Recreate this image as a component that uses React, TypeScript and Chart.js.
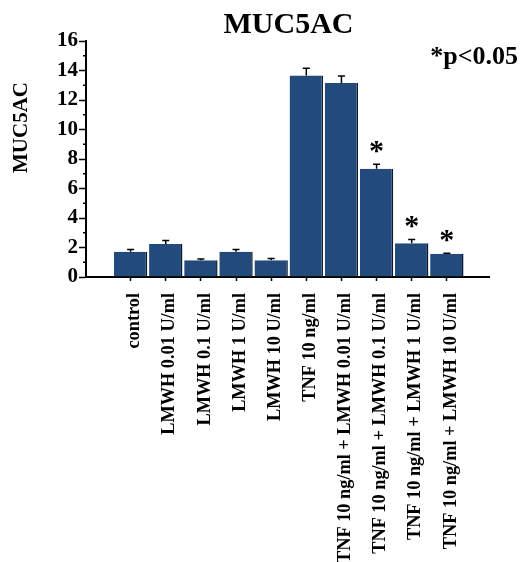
import React, { useEffect, useRef } from "react";
import { Chart, registerables } from "chart.js";

Chart.register(...registerables);

const categories = [
  "control",
  "LMWH 0.01 U/ml",
  "LMWH 0.1 U/ml",
  "LMWH 1 U/ml",
  "LMWH 10 U/ml",
  "TNF 10 ng/ml",
  "TNF 10 ng/ml + LMWH 0.01 U/ml",
  "TNF 10 ng/ml + LMWH 0.1 U/ml",
  "TNF 10 ng/ml + LMWH 1 U/ml",
  "TNF 10 ng/ml + LMWH 10 U/ml",
];
const means = [1.72, 2.23, 1.13, 1.72, 1.13, 13.66, 13.16, 7.34, 2.28, 1.58];
const errors = [0.15, 0.25, 0.09, 0.15, 0.13, 0.5, 0.47, 0.31, 0.27, 0.03];
const significant = [false, false, false, false, false, false, false, true, true, true];
const yTicks = [0, 2, 4, 6, 8, 10, 12, 14, 16];
const yMinorTicks = [1, 3, 5, 7, 9, 11, 13, 15];
const chartTitle = "MUC5AC";
const yTitle = "MUC5AC";
const pNote = "*p<0.05";

const FONT = "'Liberation Serif', 'Times New Roman', serif";
const BAR_COLOR = "#234a7c";

const decorPlugin = {
  id: "decor",
  afterDatasetsDraw(chart: any) {
    const ctx = chart.ctx;
    const area = chart.chartArea;
    const ys = chart.scales.y;
    const meta = chart.getDatasetMeta(0);
    ctx.save();
    // error bars (upper only)
    ctx.strokeStyle = "#000";
    ctx.lineWidth = 1.5;
    meta.data.forEach((bar: any, i: number) => {
      const x = bar.x;
      const y0 = ys.getPixelForValue(means[i]);
      const y1 = ys.getPixelForValue(means[i] + errors[i]);
      ctx.beginPath();
      ctx.moveTo(x, y0);
      ctx.lineTo(x, y1);
      ctx.moveTo(x - 3.5, y1);
      ctx.lineTo(x + 3.5, y1);
      ctx.stroke();
      if (significant[i]) {
        ctx.fillStyle = "#000";
        ctx.font = `bold 30px ${FONT}`;
        ctx.textAlign = "center";
        ctx.textBaseline = "alphabetic";
        ctx.fillText("*", x, y1 - 4);
      }
    });
    // minor y ticks
    ctx.lineWidth = 1.5;
    yMinorTicks.forEach((v) => {
      const y = ys.getPixelForValue(v);
      ctx.beginPath();
      ctx.moveTo(area.left - 3, y);
      ctx.lineTo(area.left, y);
      ctx.stroke();
    });
    // title
    ctx.fillStyle = "#000";
    ctx.font = `bold 30px ${FONT}`;
    ctx.textAlign = "center";
    ctx.textBaseline = "alphabetic";
    ctx.fillText(chartTitle, (area.left + area.right) / 2 + 1, 33);
    // p note
    ctx.font = `bold 26px ${FONT}`;
    ctx.textAlign = "right";
    ctx.fillText(pNote, 518, 64);
    // y title
    ctx.translate(22, 127.5);
    ctx.rotate(-Math.PI / 2);
    ctx.font = `bold 21px ${FONT}`;
    ctx.textAlign = "center";
    ctx.textBaseline = "middle";
    ctx.fillText(yTitle, 0, 0);
    ctx.restore();
  },
};

export default function App() {
  const ref = useRef<HTMLCanvasElement | null>(null);
  useEffect(() => {
    document.body.style.margin = "0";
    const canvas = ref.current;
    if (!canvas) return;
    const chart = new Chart(canvas, {
      type: "bar",
      data: {
        datasets: [
          {
            data: means.map((v, i) => ({ x: i, y: v })),
            backgroundColor: BAR_COLOR,
            borderColor: "#0d1a2c",
            borderWidth: { top: 0, left: 0, bottom: 0, right: 1.5 },
            borderSkipped: false,
            barPercentage: 0.95,
            categoryPercentage: 1,
          },
        ],
      },
      options: {
        responsive: false,
        animation: false,
        devicePixelRatio: 1,
        layout: { padding: { top: 41, right: 32, left: 0, bottom: 0 } },
        plugins: {
          legend: { display: false },
          tooltip: { enabled: false },
          title: { display: false },
        },
        scales: {
          x: {
            type: "linear",
            min: -1.27,
            max: 10.2,
            offset: false,
            afterBuildTicks: (scale: any) => {
              scale.ticks = categories.map((_, i) => ({ value: i }));
            },
            afterFit: (scale: any) => {
              scale.height = 285;
            },
            grid: {
              offset: false,
              drawOnChartArea: false,
              drawTicks: true,
              tickLength: 4,
              tickColor: "#000",
              tickWidth: 1.5,
            },
            border: { display: true, color: "#000", width: 2 },
            ticks: {
              autoSkip: false,
              maxRotation: 90,
              minRotation: 90,
              padding: 12,
              labelOffset: 4,
              color: "#000",
              font: { family: FONT, size: 18.3, weight: "bold" },
              callback: (v: any) => categories[v as number] ?? "",
            },
          },
          y: {
            min: 0,
            max: 16,
            afterBuildTicks: (scale: any) => {
              scale.ticks = yTicks.map((v) => ({ value: v }));
            },
            afterFit: (scale: any) => {
              scale.width = 86;
            },
            grid: {
              drawOnChartArea: false,
              drawTicks: true,
              tickLength: 7,
              tickColor: "#000",
              tickWidth: 1.5,
            },
            border: { display: true, color: "#000", width: 2 },
            ticks: {
              padding: 1,
              color: "#000",
              font: { family: FONT, size: 21, weight: "bold" },
            },
          },
        },
      },
      plugins: [decorPlugin],
    } as any);
    return () => chart.destroy();
  }, []);
  return (
    <canvas
      ref={ref}
      width={521}
      height={562}
      style={{ display: "block", width: 521, height: 562 }}
    />
  );
}
